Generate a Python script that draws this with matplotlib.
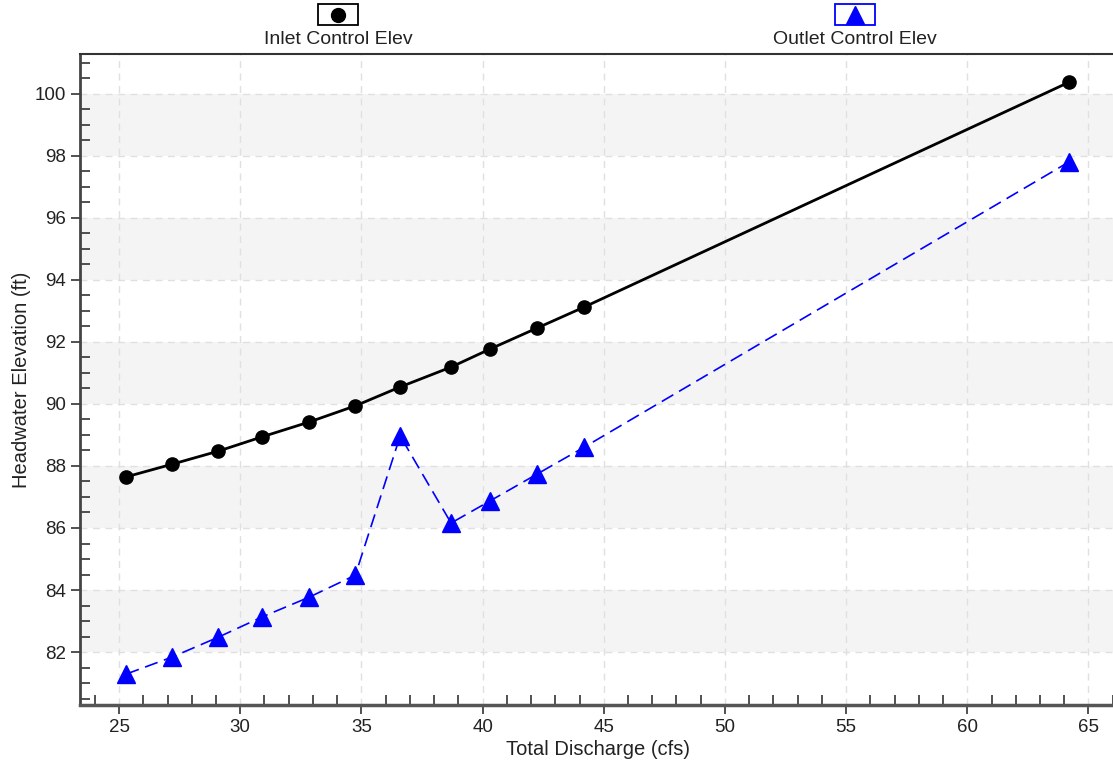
import matplotlib.pyplot as plt
from matplotlib.lines import Line2D
from matplotlib.patches import Rectangle
from matplotlib.ticker import MultipleLocator

plt.rcParams['font.family'] = ['Liberation Sans', 'DejaVu Sans']

discharge = [25.3, 27.2, 29.1, 30.9, 32.85, 34.75, 36.6, 38.7, 40.3, 42.25, 44.2, 64.2]
inlet_elev = [87.65, 88.06, 88.48, 88.94, 89.42, 89.94, 90.55, 91.19, 91.77, 92.45, 93.13, 100.38]
outlet_elev = [81.29, 81.84, 82.48, 83.13, 83.77, 84.48, 88.97, 86.16, 86.87, 87.74, 88.61, 97.81]
band_starts = [82, 86, 90, 94, 98]
legend_labels = ['Inlet Control Elev', 'Outlet Control Elev']

fig = plt.figure(figsize=(11.13, 7.69), dpi=100)
ax = fig.add_axes([0.0719, 0.0832, 0.93, 0.8466])

for b in band_starts:
    ax.axhspan(b, b + 2, color='#f4f4f4', zorder=0, lw=0)

ax.plot(discharge, inlet_elev, color='black', lw=2, marker='o', ms=9.5, zorder=3)
ax.plot(discharge, outlet_elev, color='#0000ff', lw=1.2, ls=(0, (8, 4)), marker='^',
        ms=13, zorder=3)

ax.set_xlim(23.39, 66.1)
ax.set_ylim(80.29, 101.29)
ax.xaxis.set_major_locator(MultipleLocator(5))
ax.xaxis.set_minor_locator(MultipleLocator(1))
ax.yaxis.set_major_locator(MultipleLocator(2))
ax.yaxis.set_minor_locator(MultipleLocator(0.5))
ax.tick_params(which='major', direction='out', length=6.5, width=1.2, color='#333333',
               labelsize=13.5, labelcolor='#222222')
ax.tick_params(which='minor', direction='in', length=7, width=1.2, color='#333333')
ax.grid(True, which='major', color='#e0e0e0', ls=(0, (5, 4)), lw=1)
ax.set_axisbelow(True)

ax.spines['right'].set_visible(False)
ax.spines['top'].set_linewidth(1.5)
ax.spines['top'].set_color('#333333')
ax.spines['left'].set_linewidth(2)
ax.spines['left'].set_color('#444444')
ax.spines['bottom'].set_linewidth(2.5)
ax.spines['bottom'].set_color('#555555')

ax.set_xlabel('Total Discharge (cfs)', fontsize=14.5, color='#222222', labelpad=3)
ax.set_ylabel('Headwater Elevation (ft)', fontsize=14.5, color='#222222', labelpad=3)

# legend above the plot: marker box with label beneath
styles = [dict(color='black', marker='o', ms=10, edge='black'),
          dict(color='#0000ff', marker='^', ms=13, edge='#0000ff')]
centers = [0.304, 0.768]
for cx, lab, st in zip(centers, legend_labels, styles):
    fig.add_artist(Rectangle((cx - 0.018, 0.967), 0.036, 0.028, transform=fig.transFigure,
                             fill=False, edgecolor=st['edge'], lw=1.3))
    fig.add_artist(Line2D([cx], [0.981], transform=fig.transFigure, color=st['color'],
                          marker=st['marker'], ms=st['ms'], ls='none'))
    fig.text(cx, 0.949, lab, ha='center', va='center', fontsize=14, color='#222222')

fig.savefig('out.png', dpi=100)
